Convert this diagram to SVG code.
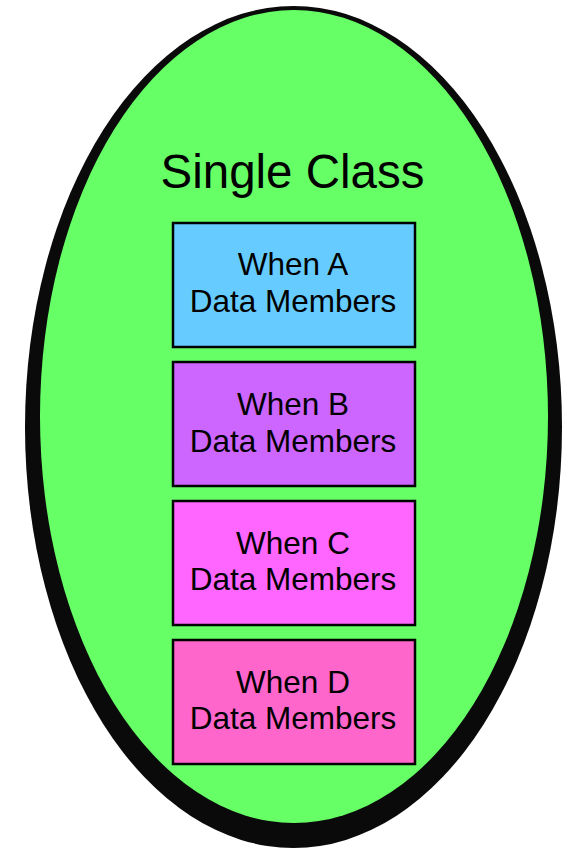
<svg xmlns="http://www.w3.org/2000/svg" width="565" height="849" viewBox="0 0 565 849">
<style>
.box{stroke:#000;stroke-width:2.5}
.t{font-family:"Liberation Sans",Arial,sans-serif;font-size:31.5px;fill:#000;text-anchor:middle}
.title{font-family:"Liberation Sans",Arial,sans-serif;font-size:47.5px;fill:#000;text-anchor:middle}
</style>
<rect width="565" height="849" fill="#fff"/>
<g id="single-class">
<ellipse cx="293.5" cy="427" rx="268.5" ry="421" fill="#0a0a0a"/>
<ellipse cx="294" cy="416.5" rx="254" ry="406.5" fill="#66ff66"/>
<text class="title" x="292.5" y="188">Single Class</text>
</g>
<g id="when-a">
<rect class="box" x="173" y="223" width="242" height="124" fill="#66ccff"/>
<text class="t" x="293" y="275">When A</text>
<text class="t" x="293" y="312">Data Members</text>
</g>
<g id="when-b">
<rect class="box" x="173" y="362" width="242" height="124" fill="#cc66ff"/>
<text class="t" x="293" y="415">When B</text>
<text class="t" x="293" y="452">Data Members</text>
</g>
<g id="when-c">
<rect class="box" x="173" y="501" width="242" height="124" fill="#ff66ff"/>
<text class="t" x="293" y="554">When C</text>
<text class="t" x="293" y="590">Data Members</text>
</g>
<g id="when-d">
<rect class="box" x="173" y="640" width="242" height="124" fill="#ff66cc"/>
<text class="t" x="293" y="693">When D</text>
<text class="t" x="293" y="729">Data Members</text>
</g>
<g id="connectors"/>
</svg>
